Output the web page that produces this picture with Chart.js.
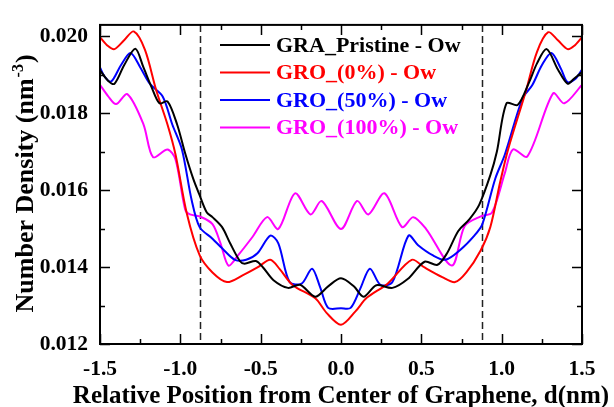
<!DOCTYPE html>
<html>
<head>
<meta charset="utf-8">
<script src="https://cdn.jsdelivr.net/npm/chart.js@4/dist/chart.umd.min.js"></script>
<style>
  html, body { margin: 0; padding: 0; background: #ffffff; }
  #wrap { width: 614px; height: 407px; }
</style>
</head>
<body>
<div id="wrap"><canvas id="chart" width="614" height="407"></canvas></div>
<script>
// Oxygen (Ow) number density profiles across the graphene sheet
const seriesLabels = ['GRA_Pristine - Ow', 'GRO_(0%) - Ow', 'GRO_(50%) - Ow', 'GRO_(100%) - Ow'];
const seriesColors = ['#000000', '#ff0000', '#0000ff', '#ff00ff'];

const pristineX = [-1.5, -1.45, -1.41, -1.35, -1.28, -1.23, -1.18, -1.13, -1.08, -1.02, -0.97, -0.92, -0.88, -0.835, -0.80, -0.74, -0.69, -0.63, -0.60, -0.53, -0.485, -0.42, -0.33, -0.255, -0.16, -0.08, 0, 0.08, 0.14, 0.22, 0.32, 0.415, 0.52, 0.60, 0.66, 0.73, 0.80, 0.86, 0.93, 0.97, 1.03, 1.10, 1.17, 1.22, 1.28, 1.35, 1.41, 1.45, 1.5];
const pristineY = [0.01912, 0.01885, 0.01877, 0.01925, 0.01968, 0.01920, 0.01869, 0.01826, 0.01831, 0.01771, 0.01696, 0.01630, 0.01587, 0.01542, 0.01530, 0.01504, 0.01462, 0.01416, 0.01409, 0.01416, 0.01399, 0.01366, 0.01346, 0.01354, 0.01323, 0.01350, 0.01371, 0.01350, 0.01323, 0.01353, 0.01346, 0.01369, 0.01414, 0.01406, 0.01436, 0.01494, 0.01525, 0.01562, 0.01640, 0.01700, 0.01826, 0.01822, 0.01880, 0.01930, 0.01967, 0.01914, 0.01877, 0.01890, 0.01907];

const go0X = [-1.5, -1.45, -1.41, -1.35, -1.29, -1.22, -1.15, -1.08, -1.03, -0.96, -0.88, -0.80, -0.71, -0.61, -0.52, -0.44, -0.38, -0.30, -0.16, -0.09, 0, 0.09, 0.16, 0.29, 0.44, 0.52, 0.63, 0.71, 0.78, 0.87, 0.93, 0.99, 1.04, 1.15, 1.22, 1.29, 1.35, 1.41, 1.45, 1.5];
const go0Y = [0.01998, 0.01975, 0.01967, 0.01990, 0.02013, 0.01965, 0.01860, 0.01771, 0.01693, 0.01540, 0.01431, 0.01386, 0.01361, 0.01379, 0.01399, 0.01419, 0.01394, 0.01353, 0.01319, 0.01281, 0.01250, 0.01285, 0.01320, 0.01357, 0.01419, 0.01399, 0.01374, 0.01361, 0.01386, 0.01444, 0.01505, 0.01620, 0.01706, 0.01857, 0.01960, 0.02011, 0.01990, 0.01967, 0.01975, 0.01998];

const go50X = [-1.5, -1.47, -1.43, -1.37, -1.31, -1.25, -1.19, -1.11, -1.05, -0.99, -0.93, -0.88, -0.80, -0.74, -0.66, -0.59, -0.52, -0.44, -0.39, -0.32, -0.245, -0.18, -0.13, -0.08, 0, 0.06, 0.12, 0.18, 0.245, 0.32, 0.42, 0.48, 0.57, 0.65, 0.74, 0.83, 0.88, 0.96, 1.02, 1.13, 1.19, 1.25, 1.31, 1.37, 1.41, 1.46, 1.5];
const go50Y = [0.01919, 0.01895, 0.01883, 0.01925, 0.01957, 0.01920, 0.01877, 0.01844, 0.01771, 0.01706, 0.01575, 0.01504, 0.01474, 0.01449, 0.01419, 0.01419, 0.01436, 0.01482, 0.01462, 0.01361, 0.01357, 0.01396, 0.01348, 0.01294, 0.01293, 0.01294, 0.01344, 0.01396, 0.01354, 0.01361, 0.01482, 0.01457, 0.01431, 0.01419, 0.01444, 0.01482, 0.01512, 0.01630, 0.01693, 0.01839, 0.01873, 0.01925, 0.01957, 0.01915, 0.01881, 0.01890, 0.01914];

const go100X = [-1.5, -1.45, -1.40, -1.33, -1.23, -1.17, -1.08, -1.03, -0.97, -0.94, -0.88, -0.80, -0.75, -0.70, -0.64, -0.55, -0.46, -0.39, -0.286, -0.19, -0.12, 0, 0.10, 0.17, 0.27, 0.38, 0.45, 0.53, 0.69, 0.77, 0.87, 0.94, 1.02, 1.07, 1.16, 1.32, 1.39, 1.5];
const go100Y = [0.01874, 0.01845, 0.01824, 0.01850, 0.01772, 0.01686, 0.01706, 0.01680, 0.01550, 0.01537, 0.01532, 0.01512, 0.01462, 0.01404, 0.01431, 0.01479, 0.01530, 0.01499, 0.01592, 0.01537, 0.01572, 0.01499, 0.01572, 0.01537, 0.01592, 0.01504, 0.01530, 0.01499, 0.01404, 0.01507, 0.01532, 0.01542, 0.01645, 0.01706, 0.01688, 0.01852, 0.01826, 0.01874];

// axis ticks and the dashed guide positions (graphene edges)
const xTickValues = [-1.5, -1.0, -0.5, 0.0, 0.5, 1.0, 1.5];
const yTickValues = [0.012, 0.014, 0.016, 0.018, 0.020];
const guideLines = [-0.875, 0.875];

const seriesX = [pristineX, go0X, go50X, go100X];
const seriesY = [pristineY, go0Y, go50Y, go100Y];

const datasets = seriesLabels.map((label, i) => ({
  label,
  data: seriesX[i].map((x, k) => ({ x, y: seriesY[i][k] })),
  borderColor: seriesColors[i],
  borderWidth: 2,
  pointRadius: 0,
  fill: false,
  tension: 0.3
}));

const serif = '"Liberation Serif", "Times New Roman", serif';

// inward tick marks on all four sides, plus the plot frame
const frameAndTicks = {
  id: 'frameAndTicks',
  afterDatasetsDraw(chart) {
    const { ctx, chartArea: a, scales: { x, y } } = chart;
    ctx.save();
    ctx.strokeStyle = '#000';
    ctx.lineWidth = 1.5;
    const major = 10, minor = 5;
    const xMinor = [];
    for (let i = 0; i < xTickValues.length - 1; i++) xMinor.push((xTickValues[i] + xTickValues[i + 1]) / 2);
    const yMinor = [];
    for (let i = 0; i < yTickValues.length - 1; i++) yMinor.push((yTickValues[i] + yTickValues[i + 1]) / 2);
    ctx.beginPath();
    xTickValues.forEach(v => {
      const px = Math.round(x.getPixelForValue(v)) + 0.5;
      ctx.moveTo(px, a.bottom); ctx.lineTo(px, a.bottom - major);
      ctx.moveTo(px, a.top); ctx.lineTo(px, a.top + major);
    });
    xMinor.forEach(v => {
      const px = Math.round(x.getPixelForValue(v)) + 0.5;
      ctx.moveTo(px, a.bottom); ctx.lineTo(px, a.bottom - minor);
      ctx.moveTo(px, a.top); ctx.lineTo(px, a.top + minor);
    });
    yTickValues.forEach(v => {
      const py = Math.round(y.getPixelForValue(v)) + 0.5;
      ctx.moveTo(a.left, py); ctx.lineTo(a.left + major, py);
      ctx.moveTo(a.right, py); ctx.lineTo(a.right - major, py);
    });
    yMinor.forEach(v => {
      const py = Math.round(y.getPixelForValue(v)) + 0.5;
      ctx.moveTo(a.left, py); ctx.lineTo(a.left + minor, py);
      ctx.moveTo(a.right, py); ctx.lineTo(a.right - minor, py);
    });
    ctx.stroke();
    ctx.lineWidth = 2;
    ctx.strokeRect(a.left, a.top, a.right - a.left, a.bottom - a.top);
    ctx.restore();
  }
};

// dashed vertical guides
const guides = {
  id: 'guides',
  beforeDatasetsDraw(chart) {
    const { ctx, chartArea: a, scales: { x } } = chart;
    ctx.save();
    ctx.strokeStyle = '#222';
    ctx.lineWidth = 1.5;
    ctx.setLineDash([7, 4]);
    guideLines.forEach(v => {
      const px = Math.round(x.getPixelForValue(v)) + 0.5;
      ctx.beginPath();
      ctx.moveTo(px, a.top);
      ctx.lineTo(px, a.bottom);
      ctx.stroke();
    });
    ctx.restore();
  }
};

// legend inside the plot, text coloured like each line
const innerLegend = {
  id: 'innerLegend',
  afterDraw(chart) {
    const { ctx, chartArea: a } = chart;
    ctx.save();
    ctx.font = 'bold 22px ' + serif;
    ctx.textBaseline = 'middle';
    ctx.textAlign = 'left';
    const x0 = a.left + 120, x1 = a.left + 170, tx = a.left + 176;
    seriesLabels.forEach((label, i) => {
      const yy = a.top + 20 + i * 27.5;
      ctx.strokeStyle = seriesColors[i];
      ctx.lineWidth = 2;
      ctx.beginPath();
      ctx.moveTo(x0, yy); ctx.lineTo(x1, yy);
      ctx.stroke();
      ctx.fillStyle = seriesColors[i];
      ctx.fillText(label, tx, yy + 1);
    });
    ctx.restore();
  }
};

// axis titles (the y title carries a superscript)
const axisTitles = {
  id: 'axisTitles',
  afterDraw(chart) {
    const { ctx, chartArea: a } = chart;
    ctx.save();
    ctx.fillStyle = '#000';
    ctx.font = 'bold 25px ' + serif;
    ctx.textAlign = 'center';
    ctx.textBaseline = 'alphabetic';
    ctx.fillText('Relative Position from Center of Graphene, d(nm)', (a.left + a.right) / 2, 403);

    const big = 'bold 26px ' + serif, small = 'bold 16px ' + serif;
    const p1 = 'Number Density (nm', sup = '-3', p2 = ')';
    ctx.font = big; const w1 = ctx.measureText(p1).width; const w3 = ctx.measureText(p2).width;
    ctx.font = small; const w2 = ctx.measureText(sup).width;
    const total = w1 + w2 + w3;
    ctx.translate(33, (a.top + a.bottom) / 2);
    ctx.rotate(-Math.PI / 2);
    ctx.textAlign = 'left';
    let cx = -total / 2;
    ctx.font = big; ctx.fillText(p1, cx, 0); cx += w1;
    ctx.font = small; ctx.fillText(sup, cx + 1, -10); cx += w2 + 2;
    ctx.font = big; ctx.fillText(p2, cx, 0);
    ctx.restore();
  }
};

const tickFont = { family: serif, size: 21.5, weight: 'bold' };

new Chart(document.getElementById('chart'), {
  type: 'line',
  data: { datasets },
  options: {
    responsive: false,
    animation: false,
    devicePixelRatio: 1,
    layout: { padding: { left: 0, top: 14, right: 32, bottom: 0 } },
    plugins: { legend: { display: false }, tooltip: { enabled: false } },
    scales: {
      x: {
        type: 'linear',
        min: -1.5,
        max: 1.5,
        grid: { display: false, drawTicks: false },
        border: { display: false },
        afterBuildTicks: s => { s.ticks = xTickValues.map(v => ({ value: v })); },
        afterFit: s => { s.height = 63; },
        ticks: { font: tickFont, color: '#000', padding: 13, maxRotation: 0, callback: v => Number(v).toFixed(1) }
      },
      y: {
        type: 'linear',
        min: 0.012,
        max: 0.0203,
        grid: { display: false, drawTicks: false },
        border: { display: false },
        afterBuildTicks: s => { s.ticks = yTickValues.map(v => ({ value: v })); },
        afterFit: s => { s.width = 100; },
        ticks: { font: tickFont, color: '#000', padding: 12, callback: v => Number(v).toFixed(3) }
      }
    }
  },
  plugins: [guides, frameAndTicks, innerLegend, axisTitles]
});
</script>
</body>
</html>
